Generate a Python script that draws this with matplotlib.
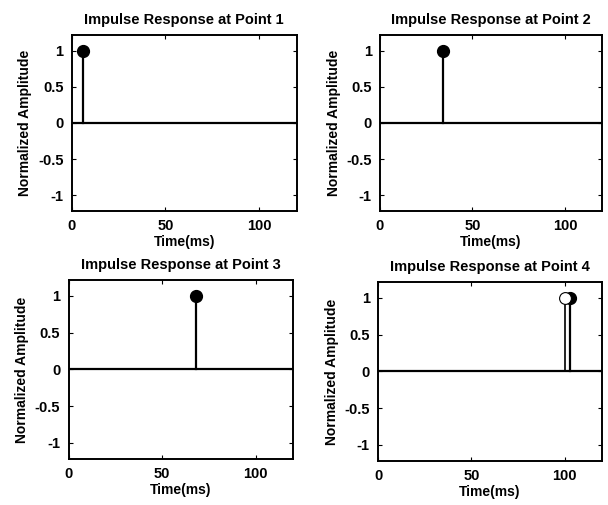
import matplotlib
matplotlib.use("Agg")
from matplotlib import pyplot as plt

plt.rcParams['font.family'] = ['Liberation Sans', 'DejaVu Sans']
plt.rcParams['font.weight'] = 'bold'

titles = ["Impulse Response at Point 1", "Impulse Response at Point 2",
          "Impulse Response at Point 3", "Impulse Response at Point 4"]
# filled stems (time in ms, normalized amplitude)
filled_t = [[6], [34], [68], [103]]
filled_a = [[1.0], [1.0], [1.0], [1.0]]
# open stems (only point 4 has one)
open_t = [[], [], [], [100]]
open_a = [[], [], [], [1.0]]
xticks = [0, 50, 100]
yticks = [-1, -0.5, 0, 0.5, 1]
ytick_labels = ["-1", "-0.5", "0", "0.5", "1"]

fig = plt.figure(figsize=(6.08, 5.05), dpi=100)
boxes = [[0.118, 0.582, 0.370, 0.349],
         [0.625, 0.582, 0.365, 0.349],
         [0.113, 0.091, 0.369, 0.355],
         [0.622, 0.087, 0.368, 0.355]]

for i in range(4):
    ax = fig.add_axes(boxes[i])
    ax.axhline(0, color='black', lw=1.6, zorder=2)
    for t, a in zip(filled_t[i], filled_a[i]):
        ax.plot([t, t], [0, a], color='black', lw=1.6, zorder=3)
        ax.plot(t, a, 'o', ms=8.5, mfc='black', mec='black', zorder=4)
    for t, a in zip(open_t[i], open_a[i]):
        ax.plot([t, t], [0, a], color='black', lw=1.2, zorder=3)
        ax.plot(t, a, 'o', ms=8.5, mfc='white', mec='black', mew=0.8, zorder=4)
    ax.set_xlim(0, 120)
    ax.set_ylim(-1.22, 1.22)
    ax.set_xticks(xticks)
    ax.set_xticklabels([str(v) for v in xticks])
    ax.set_yticks(yticks)
    ax.set_yticklabels(ytick_labels)
    ax.tick_params(direction='in', top=True, right=True, length=3, labelsize=10.5, pad=6)
    for s in ax.spines.values():
        s.set_linewidth(1.4)
    ax.set_title(titles[i], fontsize=10.5, fontweight='bold', pad=8)
    ax.set_xlabel("Time(ms)", fontsize=10, fontweight='bold', labelpad=1)
    ax.set_ylabel("Normalized Amplitude", fontsize=10, fontweight='bold', labelpad=4)

plt.savefig("out.png", dpi=100)
